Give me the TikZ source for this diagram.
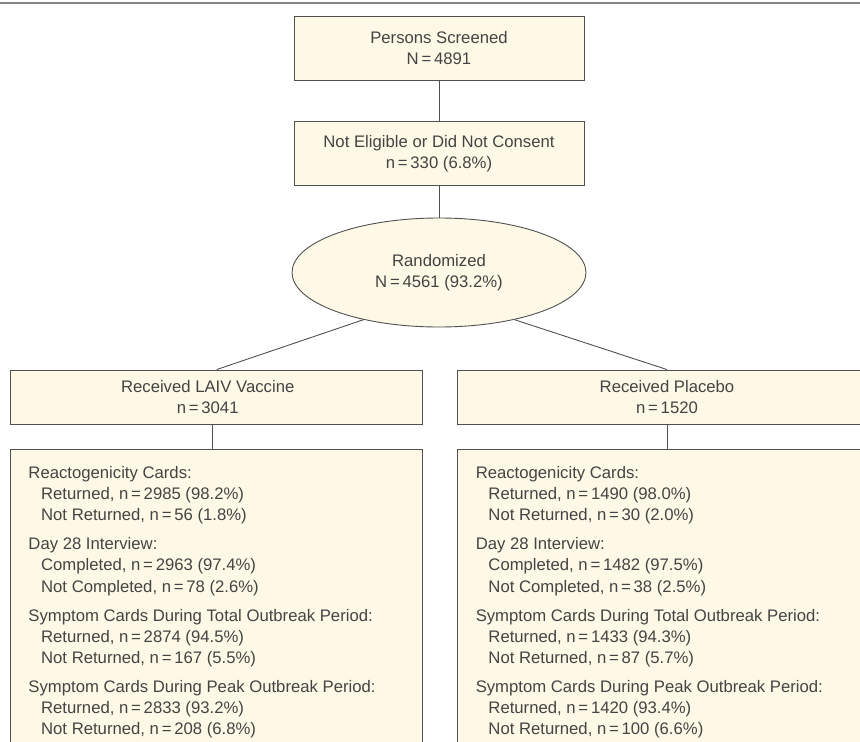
\documentclass[tikz,border=0pt]{standalone}
\usepackage{fontspec}
\setmainfont{Liberation Sans}
\usetikzlibrary{shapes.geometric}
\definecolor{boxfill}{HTML}{FEF9E6}
\definecolor{edgec}{HTML}{505050}
\definecolor{txt}{HTML}{444444}
\definecolor{rulec}{HTML}{858585}
\begin{document}
\begin{tikzpicture}[x=1pt,y=-1pt,
  every node/.style={font=\fontsize{16.7}{21.2}\selectfont, text=txt},
  box/.style={draw=edgec, line width=0.9pt, fill=boxfill, rectangle, align=center, inner sep=0pt},
  oval/.style={draw=edgec, line width=0.9pt, fill=boxfill, ellipse, align=center, inner sep=0pt},
  link/.style={draw=edgec, line width=0.9pt},
  listtext/.style={align=left, anchor=north west, inner sep=0pt}]

\useasboundingbox (0,0) rectangle (860,742);
\clip (0,0) rectangle (860,742);
\draw[rulec, line width=2pt] (0,2.7) -- (860,2.7);

\node[box, minimum width=290pt, minimum height=64pt] (scr) at (439,48) {Persons Screened\\N\,=\,4891};
\node[box, minimum width=290pt, minimum height=64pt] (ne) at (439,153.6) {Not Eligible or Did Not Consent\\n\,=\,330 (6.8\%)};
\node[oval, minimum width=294pt, minimum height=109pt] (rand) at (439,272.5) {Randomized\\N\,=\,4561 (93.2\%)};
\node[box, minimum width=412pt, minimum height=54pt] (laiv) at (216.7,397) {\hspace*{-18pt}Received LAIV Vaccine\\\hspace*{-18pt}n\,=\,3041};
\node[box, minimum width=460pt, minimum height=54pt] (plac) at (687,397) {\hspace*{-40pt}Received Placebo\\\hspace*{-40pt}n\,=\,1520};
\node[box, minimum width=412pt, minimum height=350pt, anchor=north] (lv) at (216.7,449) {};
\node[box, minimum width=460pt, minimum height=350pt, anchor=north] (pv) at (687,449) {};

\node[listtext] (lvt) at ([shift={(18,17)}]lv.north west) {Reactogenicity Cards:\\
\hspace*{12.7pt}Returned, n\,=\,2985 (98.2\%)\\
\hspace*{12.7pt}Not Returned, n\,=\,56 (1.8\%)\\[7.8pt]
Day 28 Interview:\\
\hspace*{12.7pt}Completed, n\,=\,2963 (97.4\%)\\
\hspace*{12.7pt}Not Completed, n\,=\,78 (2.6\%)\\[7.8pt]
Symptom Cards During Total Outbreak Period:\\
\hspace*{12.7pt}Returned, n\,=\,2874 (94.5\%)\\
\hspace*{12.7pt}Not Returned, n\,=\,167 (5.5\%)\\[7.8pt]
Symptom Cards During Peak Outbreak Period:\\
\hspace*{12.7pt}Returned, n\,=\,2833 (93.2\%)\\
\hspace*{12.7pt}Not Returned, n\,=\,208 (6.8\%)};

\node[listtext] (pvt) at ([shift={(19,17)}]pv.north west) {Reactogenicity Cards:\\
\hspace*{12.7pt}Returned, n\,=\,1490 (98.0\%)\\
\hspace*{12.7pt}Not Returned, n\,=\,30 (2.0\%)\\[7.8pt]
Day 28 Interview:\\
\hspace*{12.7pt}Completed, n\,=\,1482 (97.5\%)\\
\hspace*{12.7pt}Not Completed, n\,=\,38 (2.5\%)\\[7.8pt]
Symptom Cards During Total Outbreak Period:\\
\hspace*{12.7pt}Returned, n\,=\,1433 (94.3\%)\\
\hspace*{12.7pt}Not Returned, n\,=\,87 (5.7\%)\\[7.8pt]
Symptom Cards During Peak Outbreak Period:\\
\hspace*{12.7pt}Returned, n\,=\,1420 (93.4\%)\\
\hspace*{12.7pt}Not Returned, n\,=\,100 (6.6\%)};

\draw[link] (scr.south) -- (ne.north);
\draw[link] (ne.south) -- (rand.north);
\draw[link] (rand.212) -- (laiv.north);
\draw[link] (rand.328) -- ([xshift=-20pt]plac.north);
\draw[link] ([xshift=-4.7pt]laiv.south) -- ([xshift=-4.7pt]lv.north);
\draw[link] ([xshift=-20pt]plac.south) -- ([xshift=-20pt]pv.north);
\end{tikzpicture}
\end{document}
